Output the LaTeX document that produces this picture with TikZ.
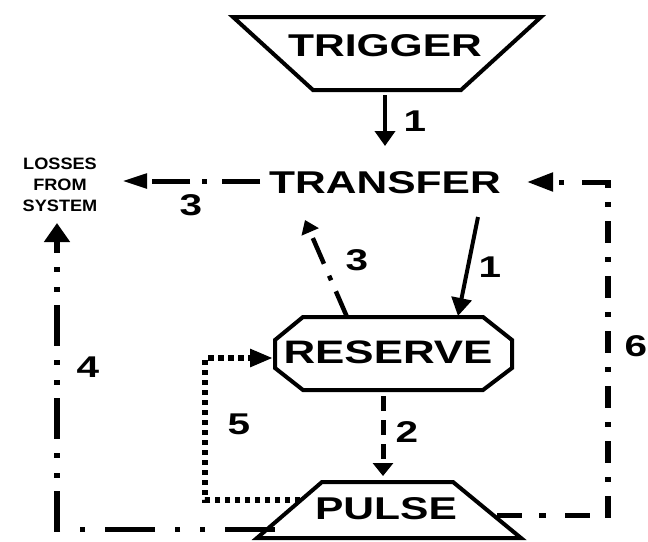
\documentclass[tikz,border=0pt]{standalone}
\usepackage{fontspec}
\setmainfont{Liberation Sans}
\newfontfamily\widefont{Liberation Sans}[FakeStretch=1.35]
\newfontfamily\lossfont{Liberation Sans}[FakeStretch=1.1]
\usetikzlibrary{arrows.meta}
\begin{document}
\begin{tikzpicture}[x=1pt,y=-1pt,
  big/.style={font=\fontsize{31.5}{31.5}\selectfont\widefont\bfseries, inner sep=0pt},
  num/.style={font=\fontsize{30}{30}\selectfont\widefont\bfseries, inner sep=0pt},
  outline/.style={line width=4pt, line join=miter},
  solidarrow/.style={line width=4pt},
  hconn/.style={line width=5pt},
  vconn/.style={line width=6.5pt},
]
\useasboundingbox (0,0) rectangle (648,541);
% shapes
\draw[outline] (233,17) -- (541,17) -- (461,90) -- (313,90) -- cycle;
\draw[outline] (303,317) -- (483,317) -- (512,340) -- (512,368) -- (483,390) -- (303,390) -- (275,368) -- (275,340) -- cycle;
\draw[outline] (322,482) -- (453,482) -- (521,538) -- (257,538) -- cycle;
% texts
\node[big] (trigger) at (385,46) {TRIGGER};
\node[big] (transfer) at (385,182.5) {TRANSFER};
\node[big, font=\fontsize{32.5}{32.5}\selectfont\widefont\bfseries] (reserve) at (388,352) {RESERVE};
\node[big] (pulse) at (386,509) {PULSE};
\node[font=\fontsize{16.5}{21}\selectfont\lossfont\bfseries, align=center, inner sep=0pt] (losses) at (60,185) {LOSSES\\FROM\\SYSTEM};
% anchor coordinates
\coordinate (trigOut) at (385,95);
\coordinate (transIn) at (385,146);
\coordinate (transOutL) at (260,181);
\coordinate (lossIn) at (122,181);
\coordinate (transOutR) at (478,217);
\coordinate (resInTop) at (458,316);
\coordinate (resOutTop) at (347,317);
\coordinate (transInLow) at (305,220);
\coordinate (resOutBot) at (383,396);
\coordinate (pulseIn) at (383,476);
\coordinate (pulseOutL) at (300,500);
\coordinate (c5a) at (205,500);
\coordinate (c5b) at (205,358);
\coordinate (resInL) at (273,358);
\coordinate (pulseOutLL) at (275,529);
\coordinate (c4) at (57,529);
\coordinate (c4v) at (57,531.5);
\coordinate (lossInB) at (57,223);
\coordinate (pulseOutR) at (497,515);
\coordinate (c6a) at (611,515);
\coordinate (c6av) at (608,517.5);
\coordinate (c6b) at (608,179.5);
\coordinate (c6bh) at (611,182);
\coordinate (transInR) at (527,182);
% connectors
\draw[solidarrow, -{Triangle[length=15pt,width=20pt]}] (trigOut) -- (transIn);
\draw[hconn, dash pattern=on 38pt off 15pt on 5pt off 12pt, -{Triangle[length=25pt,width=14pt]}] (transOutL) -- (lossIn);
\draw[solidarrow, -{Triangle[length=18pt,width=20pt]}] (transOutR) -- (resInTop);
\draw[line width=4.5pt, dash pattern=on 28pt off 12pt on 5pt off 13pt, -{Triangle[length=13pt,width=18pt]}] (resOutTop) -- (transInLow);
\draw[line width=5pt, dash pattern=on 15pt off 9pt, -{Triangle[length=13pt,width=20pt]}] (resOutBot) -- (pulseIn);
\draw[line width=5.5pt, dash pattern=on 5.5pt off 4.5pt, -{Triangle[length=23pt,width=17pt]}] (pulseOutL) -- (c5a) -- (c5b) -- (resInL);
\draw[hconn, dash pattern=on 50pt off 20pt on 5pt off 20pt on 5pt off 20pt] (pulseOutLL) -- (c4);
\draw[vconn, dash pattern=on 41pt off 13pt on 5pt off 15pt on 5pt off 14pt, -{Triangle[length=19pt,width=25pt]}] (c4v) -- (lossInB);
\draw[hconn, dash pattern=on 25pt off 17pt on 7pt off 19pt] (pulseOutR) -- (c6a);
\draw[vconn, dash pattern=on 22pt off 14pt on 5pt off 14pt] (c6av) -- (c6b);
\draw[hconn, dash pattern=on 29pt off 18pt on 5pt off 10pt, -{Triangle[length=26pt,width=18pt]}] (c6bh) -- (transInR);
% labels
\node[num] (l1a) at (415,121) {1};
\node[num] (l3a) at (191,205) {3};
\node[num] (l3b) at (357,260) {3};
\node[num] (l1b) at (490,267) {1};
\node[num] (l2) at (407,432) {2};
\node[num] (l5) at (239,424) {5};
\node[num] (l4) at (88,367) {4};
\node[num] (l6) at (636,346) {6};
\end{tikzpicture}
\end{document}
